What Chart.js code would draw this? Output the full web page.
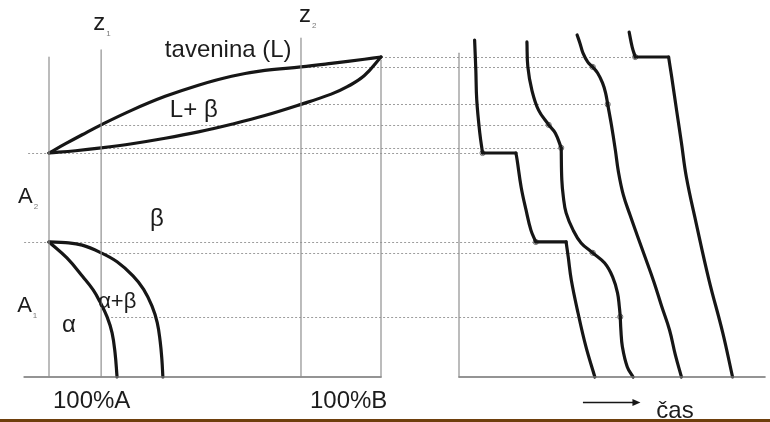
<!DOCTYPE html>
<html>
<head>
<meta charset="utf-8">
<script src="https://cdn.jsdelivr.net/npm/chart.js@4.4.1/dist/chart.umd.min.js"></script>
<style>
  html, body { margin: 0; padding: 0; background: #fff; }
  #wrap { position: relative; width: 770px; height: 422px; overflow: hidden; background: #fff; }
  #wrap canvas { position: absolute; left: 0; top: 0; }
  #rule { position: absolute; left: 0; top: 419px; width: 770px; height: 3px; background: #6e3f0c; }
</style>
</head>
<body>
<div id="wrap">
  <canvas id="phase" width="770" height="422"></canvas>
  <canvas id="cooling" width="770" height="422"></canvas>
  <div id="rule"></div>
</div>
<script>
// Binary system A-B: composition in % B, temperature in relative units (0-1000)
const alloyComp = [15.7, 75.9];            // alloys z1, z2

// L / L+beta boundary and L+beta / beta boundary
const liquidusComp = [0, 5, 10, 15.7, 25, 35, 45, 55, 65, 75.9, 85, 95, 100];
const liquidusTemp = [700, 729, 757, 788, 834, 877, 912, 940, 958, 969, 980, 993, 1000];
const solidusComp  = [0, 8, 15.7, 25, 35, 45, 55, 65, 75.9, 85, 90, 95, 100];
const solidusTemp  = [700, 707, 716, 729, 746, 766, 790, 817, 852, 884, 908, 942, 1000];

// beta / alpha+beta and alpha+beta / alpha boundaries
const betaSolvusComp  = [0, 5, 10, 15.7, 20.5, 25.3, 28.5, 31, 32.6, 33.5, 34, 34.3];
const betaSolvusTemp  = [422, 420, 412, 388, 360, 316, 274, 222, 170, 110, 55, 0];
const alphaSolvusComp = [0, 5.4, 10.2, 13.3, 15.4, 17.5, 19, 19.9, 20.5];
const alphaSolvusTemp = [422, 372, 313, 272, 234, 188, 138, 75, 0];

// Vertical composition lines: pure A, z1, z2, pure B (upper ends)
const frameComp = [0, alloyComp[0], alloyComp[1], 100];
const frameTop  = [1000, 1022, 1059, 990];

// Cooling curves: time (0-100) vs temperature
const curveATime  = [5.1, 5.5, 5.8, 6.8, 7.7, 18.6, 19.0, 20.3, 21.9, 23.5, 25.1, 35.0, 35.7, 36.7, 38.9, 41.5, 44.4];
const curveATemp  = [1053, 959, 866, 762, 700, 700, 678, 594, 522, 459, 422, 422, 375, 303, 200, 94, 0];
const curveZ1Time = [22.2, 22.5, 23.8, 26.0, 29.3, 31.5, 33.4, 33.6, 34.1, 35.0, 37.3, 39.9, 43.7, 47.6, 50.2, 51.8, 52.4, 52.7, 52.9, 53.4, 55.0, 56.9];
const curveZ1Temp = [1047, 969, 897, 834, 788, 762, 716, 616, 563, 513, 459, 419, 388, 356, 313, 263, 219, 188, 147, 94, 31, 0];
const curveZ2Time = [38.6, 39.5, 40.5, 42.1, 43.7, 45.3, 46.9, 47.9, 48.6, 49.8, 51.1, 52.1, 53.7, 55.9, 58.2, 60.8, 63.7, 66.2, 68.8, 70.7, 72.7];
const curveZ2Temp = [1069, 1044, 1013, 984, 969, 950, 919, 888, 852, 788, 709, 641, 569, 506, 444, 375, 297, 222, 147, 69, 0];
const curveBTime  = [55.6, 56.6, 57.6, 68.5, 69.5, 71.1, 72.7, 74.3, 77.5, 81.7, 86.2, 89.4];
const curveBTemp  = [1078, 1031, 1000, 1000, 938, 834, 731, 625, 481, 303, 138, 0];

// Arrest points on the cooling curves and where their guide lines start in the diagram
const arrestTemp    = [1000, 969, 852, 788, 716, 388, 188, 700, 422];
const arrestTime    = [57.6, 43.7, 48.6, 29.3, 33.4, 43.7, 52.7, 7.7, 25.1];
const guideFromComp = [100, 75.9, 75.9, 15.7, 15.7, 15.7, 17.5, -6.3, -7.5];

// Text in the diagram
const phaseLabelText = ['z', 'z', 'tavenina (L)', 'L+ β', 'β', 'A', 'A', 'α+β', 'α', '100%A', '100%B'];
const phaseLabelSub  = ['1', '2', '', '', '', '2', '1', '', '', '', ''];
const phaseLabelComp = [13.3, 75.3, 34.9, 36.4, 30.4, -9.3, -9.6, 14.8, 3.9, 1.2, 78.6];
const phaseLabelTemp = [1084, 1109, 1000, 812, 472, 544, 203, 216, 141, -97, -97];
const phaseLabelSize = [24, 24, 24, 24, 24, 22, 22, 22, 24, 24, 24];
const coolLabelText = ['čas'];
const coolLabelTime = [64.5];
const coolLabelTemp = [-128];
const coolLabelSize = [24];
// time arrow under the cooling curves
const arrowTime = [40.5, 59.3];
const arrowTemp = [-78, -78];

const FONT = "'Liberation Sans', Arial, sans-serif";
const INK = '#161616';
const FRAME = '#8f8f8f';
const AXIS = '#727272';
const GUIDE = '#9d9d9d';

const pts = (xs, ys) => xs.map((x, i) => ({ x, y: ys[i] }));

function line(data, color, width, extra) {
  return Object.assign({
    data, showLine: true, borderColor: color, backgroundColor: color, borderWidth: width,
    pointRadius: 0, pointHoverRadius: 0, tension: 0.4,
    capBezierPoints: false, clip: false, fill: false,
    borderCapStyle: 'round', borderJoinStyle: 'round'
  }, extra || {});
}

// Break a cooling curve into smooth pieces at arrests and around flat holds
function splitCurve(ts, Ts) {
  const segs = [];
  let cur = [{ x: ts[0], y: Ts[0] }];
  for (let i = 1; i < ts.length; i++) {
    const p = { x: ts[i], y: Ts[i] };
    cur.push(p);
    const last = i === ts.length - 1;
    const isArrest = arrestTime.some((t, k) => t === ts[i] && arrestTemp[k] === Ts[i]);
    if (!last && (Ts[i + 1] === Ts[i] || Ts[i - 1] === Ts[i] || isArrest)) {
      segs.push(cur);
      cur = [p];
    }
  }
  segs.push(cur);
  return segs;
}

function labelPlugin(id, texts, subs, xs, ys, sizes) {
  return {
    id,
    afterDatasetsDraw(chart) {
      const { ctx } = chart;
      const sx = chart.scales.x, sy = chart.scales.y;
      ctx.save();
      ctx.textBaseline = 'alphabetic';
      ctx.textAlign = 'left';
      texts.forEach((t, i) => {
        const x = sx.getPixelForValue(xs[i]);
        const y = sy.getPixelForValue(ys[i]);
        ctx.font = sizes[i] + 'px ' + FONT;
        ctx.fillStyle = '#1c1c1c';
        ctx.fillText(t, x, y);
        if (subs && subs[i]) {
          const w = ctx.measureText(t).width;
          ctx.font = '8px ' + FONT;
          ctx.fillStyle = '#7a7a7a';
          ctx.fillText(subs[i], x + w + 1, y + 6);
        }
      });
      ctx.restore();
    }
  };
}

const arrowPlugin = {
  id: 'timeArrow',
  afterDatasetsDraw(chart) {
    const { ctx } = chart;
    const sx = chart.scales.x, sy = chart.scales.y;
    const x0 = sx.getPixelForValue(arrowTime[0]), x1 = sx.getPixelForValue(arrowTime[1]);
    const y = Math.round(sy.getPixelForValue(arrowTemp[0])) + 0.5;
    ctx.save();
    ctx.strokeStyle = INK;
    ctx.fillStyle = INK;
    ctx.lineWidth = 1.4;
    ctx.beginPath();
    ctx.moveTo(x0, y);
    ctx.lineTo(x1 - 6, y);
    ctx.stroke();
    ctx.beginPath();
    ctx.moveTo(x1, y);
    ctx.lineTo(x1 - 8, y - 3.5);
    ctx.lineTo(x1 - 8, y + 3.5);
    ctx.closePath();
    ctx.fill();
    ctx.restore();
  }
};

const baseOptions = (padding, xMin, xMax) => ({
  responsive: false,
  animation: false,
  events: [],
  layout: { padding },
  plugins: { legend: { display: false }, tooltip: { enabled: false }, title: { display: false } },
  elements: { line: { capBezierPoints: false } },
  scales: {
    x: { type: 'linear', display: false, min: xMin, max: xMax },
    y: { type: 'linear', display: false, min: 0, max: 1000 }
  }
});

// ---- cooling curves (right panel) ----
const coolingSets = [];
coolingSets.push(line([{ x: 0, y: 0 }, { x: 0, y: 1012 }], FRAME, 1.2, { tension: 0 }));
coolingSets.push(line([{ x: 0, y: 0 }, { x: 100, y: 0 }], AXIS, 1.6, { tension: 0 }));
[[curveATime, curveATemp], [curveZ1Time, curveZ1Temp], [curveZ2Time, curveZ2Temp], [curveBTime, curveBTemp]]
  .forEach(([ts, Ts]) => splitCurve(ts, Ts).forEach(seg => coolingSets.push(line(seg, INK, 3.2))));
coolingSets.push({
  data: pts(arrestTime, arrestTemp), showLine: false, clip: false,
  pointRadius: 2.6, pointStyle: 'circle', pointBorderColor: '#6d6d6d', pointBorderWidth: 1,
  pointBackgroundColor: 'rgba(255,255,255,0.6)'
});

const coolingChart = new Chart(document.getElementById('cooling'), {
  type: 'scatter',
  data: { datasets: coolingSets },
  options: baseOptions({ left: 459, right: 0, top: 57, bottom: 45 }, 0, 100),
  plugins: [arrowPlugin, labelPlugin('coolLabels', coolLabelText, null, coolLabelTime, coolLabelTemp, coolLabelSize)]
});

// ---- phase diagram (left panel) ----
const guidePlugin = {
  id: 'guides',
  beforeDatasetsDraw(chart) {
    const { ctx } = chart;
    const sx = chart.scales.x, sy = chart.scales.y, st = coolingChart.scales.x;
    ctx.save();
    ctx.strokeStyle = GUIDE;
    ctx.lineWidth = 1;
    ctx.setLineDash([2, 2]);
    arrestTemp.forEach((T, i) => {
      const y = Math.round(sy.getPixelForValue(T)) + 0.5;
      ctx.beginPath();
      ctx.moveTo(sx.getPixelForValue(guideFromComp[i]), y);
      ctx.lineTo(st.getPixelForValue(arrestTime[i]), y);
      ctx.stroke();
    });
    ctx.restore();
  }
};

const phaseSets = [];
frameComp.forEach((c, i) => phaseSets.push(line([{ x: c, y: 0 }, { x: c, y: frameTop[i] }], FRAME, 1.2, { tension: 0 })));
phaseSets.push(line([{ x: -7.5, y: 0 }, { x: 100, y: 0 }], AXIS, 1.6, { tension: 0 }));
phaseSets.push(line(pts(liquidusComp, liquidusTemp), INK, 3.2));
phaseSets.push(line(pts(solidusComp, solidusTemp), INK, 3.2));
phaseSets.push(line(pts(betaSolvusComp, betaSolvusTemp), INK, 3.2));
phaseSets.push(line(pts(alphaSolvusComp, alphaSolvusTemp), INK, 3.2));

const phaseChart = new Chart(document.getElementById('phase'), {
  type: 'scatter',
  data: { datasets: phaseSets },
  options: baseOptions({ left: 49, right: 389, top: 57, bottom: 45 }, 0, 100),
  plugins: [guidePlugin, labelPlugin('phaseLabels', phaseLabelText, phaseLabelSub, phaseLabelComp, phaseLabelTemp, phaseLabelSize)]
});
</script>
</body>
</html>
